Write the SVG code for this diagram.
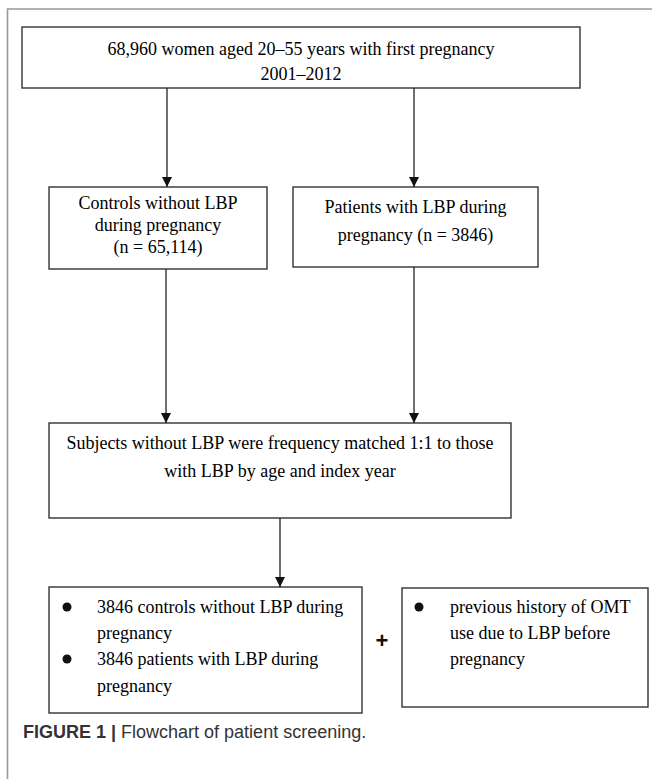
<svg xmlns="http://www.w3.org/2000/svg" width="652" height="779" viewBox="0 0 652 779">
<style>
.box{fill:#fff;stroke:#333;stroke-width:1.4}
.t{font-family:"Liberation Serif","Times New Roman",serif;font-size:18px;fill:#000}
.c{text-anchor:middle}
.conn{stroke:#222;stroke-width:1.3;fill:none}
.frame{stroke:#999;stroke-width:1.6;fill:none}
.cap{font-family:"Liberation Sans",Arial,sans-serif;font-size:18px;fill:#333}
</style>
<defs>
<marker id="ah" markerWidth="11" markerHeight="11" refX="10" refY="5" orient="auto" markerUnits="userSpaceOnUse">
<path d="M0,0 L10,5 L0,10 Z" fill="#111"/>
</marker>
</defs>
<rect width="652" height="779" fill="#fff"/>
<path class="frame" d="M652,9 H7.5 V779"/>
<g id="top">
<rect class="box" x="22" y="27" width="558" height="61"/>
<text class="t c" x="301" y="55">68,960 women aged 20–55 years with first pregnancy</text>
<text class="t c" x="301" y="80">2001–2012</text>
</g>
<g id="controls">
<rect class="box" x="49" y="187" width="218" height="82"/>
<text class="t c" x="158" y="209">Controls without LBP</text>
<text class="t c" x="158" y="231">during pregnancy</text>
<text class="t c" x="158" y="253">(n = 65,114)</text>
</g>
<g id="patients">
<rect class="box" x="293" y="187" width="245" height="80"/>
<text class="t c" x="415.5" y="213">Patients with LBP during</text>
<text class="t c" x="415.5" y="241">pregnancy (n = 3846)</text>
</g>
<g id="matching">
<rect class="box" x="49" y="423" width="462" height="95"/>
<text class="t c" x="280" y="449">Subjects without LBP were frequency matched 1:1 to those</text>
<text class="t c" x="280" y="477">with LBP by age and index year</text>
</g>
<g id="cohort">
<rect class="box" x="49" y="587" width="313" height="126"/>
<circle cx="67" cy="607" r="4.5" fill="#111"/>
<text class="t" x="97" y="613">3846 controls without LBP during</text>
<text class="t" x="97" y="639">pregnancy</text>
<circle cx="67" cy="659" r="4.5" fill="#111"/>
<text class="t" x="97" y="665">3846 patients with LBP during</text>
<text class="t" x="97" y="692">pregnancy</text>
</g>
<g id="plus">
<text x="382" y="648" text-anchor="middle" font-family="Liberation Sans, Arial, sans-serif" font-weight="bold" font-size="22" fill="#111">+</text>
</g>
<g id="history">
<rect class="box" x="402" y="588" width="246" height="119"/>
<circle cx="419" cy="607" r="4.5" fill="#111"/>
<text class="t" x="450" y="613">previous history of OMT</text>
<text class="t" x="450" y="639">use due to LBP before</text>
<text class="t" x="450" y="665">pregnancy</text>
</g>
<g id="connectors">
<line class="conn" x1="167" y1="88" x2="167" y2="187" marker-end="url(#ah)"/>
<line class="conn" x1="414" y1="88" x2="414" y2="187" marker-end="url(#ah)"/>
<line class="conn" x1="166" y1="269" x2="166" y2="423" marker-end="url(#ah)"/>
<line class="conn" x1="414" y1="267" x2="414" y2="423" marker-end="url(#ah)"/>
<line class="conn" x1="280" y1="518" x2="280" y2="587" marker-end="url(#ah)"/>
</g>
<g id="caption">
<text class="cap" x="23" y="738"><tspan font-weight="bold">FIGURE 1 |</tspan> Flowchart of patient screening.</text>
</g>
</svg>
